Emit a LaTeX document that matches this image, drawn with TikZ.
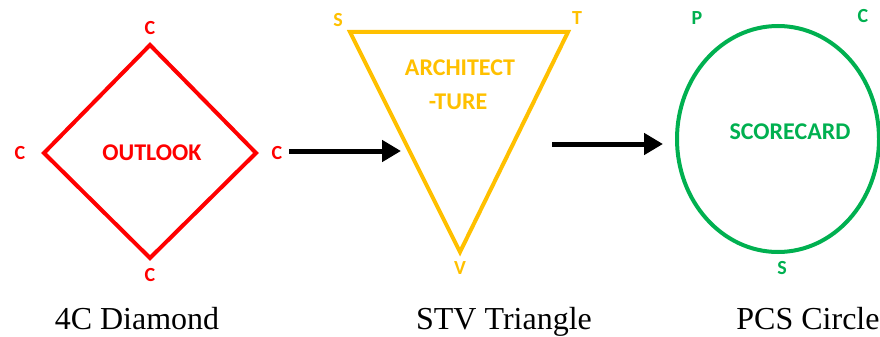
\documentclass[tikz,border=0pt]{standalone}
\usepackage{fontspec}
\setmainfont{Liberation Serif}
\newfontfamily\lblfont{Carlito}
\usetikzlibrary{arrows.meta,shapes.geometric}
\definecolor{dred}{RGB}{255,0,0}
\definecolor{dgold}{RGB}{255,192,0}
\definecolor{dgreen}{RGB}{0,176,80}
\tikzset{
  shapeline/.style={line width=4pt, line join=miter},
  corner/.style={font=\lblfont\bfseries\fontsize{20}{22}\selectfont, inner sep=0pt},
  inner/.style={font=\lblfont\bfseries\fontsize{24}{28}\selectfont, inner sep=0pt, align=center},
  caption/.style={font=\fontsize{32}{36}\selectfont, inner sep=0pt, anchor=base},
  flow/.style={line width=5pt, -{Triangle[length=19pt,width=21pt]}}
}
\begin{document}
\begin{tikzpicture}[x=1pt,y=-1pt]
\useasboundingbox (0,0) rectangle (880,337);
% diamond
\coordinate (dT) at (150,45);
\coordinate (dR) at (256,153);
\coordinate (dB) at (150,258);
\coordinate (dL) at (44,153);
\draw[shapeline, dred] (dT) -- (dR) -- (dB) -- (dL) -- cycle;
\node[corner, dred] (cT) at (150,28) {C};
\node[corner, dred] (cL) at (20,153) {C};
\node[corner, dred] (cR) at (277,153) {C};
\node[corner, dred] (cB) at (150,275) {C};
\node[inner, dred] (outlook) at (152,153) {OUTLOOK};
% triangle
\coordinate (tS) at (350,32);
\coordinate (tT) at (568,32);
\coordinate (tV) at (460,252);
\draw[shapeline, dgold] (tS) -- (tT) -- (tV) -- cycle;
\node[corner, dgold] (lS) at (338,20) {S};
\node[corner, dgold] (lT) at (577,18) {T};
\node[corner, dgold] (lV) at (460,268) {V};
\node[inner, dgold] (arch) at (460,68) {ARCHITECT};
\node[inner, dgold] (ture) at (458,102) {-TURE};
% circle
\node[draw=dgreen, line width=4pt, ellipse, minimum width=202pt, minimum height=226pt, inner sep=0pt] (circ) at (778,139) {};
\node[corner, dgreen] (lP) at (697,18) {P};
\node[corner, dgreen] (lC) at (863,16) {C};
\node[corner, dgreen] (lS2) at (782,268) {S};
\node[inner, dgreen] (score) at (790,132) {SCORECARD};
% arrows
\coordinate (a1s) at (289,151);
\coordinate (a1e) at (401,151);
\coordinate (a2s) at (552,144);
\coordinate (a2e) at (663,144);
\draw[flow] (a1s) -- (a1e);
\draw[flow] (a2s) -- (a2e);
% captions
\node[caption] (cap1) at (137,329) {4C Diamond};
\node[caption] (cap2) at (504,329) {STV Triangle};
\node[caption] (cap3) at (808,329) {PCS Circle};
\end{tikzpicture}
\end{document}
